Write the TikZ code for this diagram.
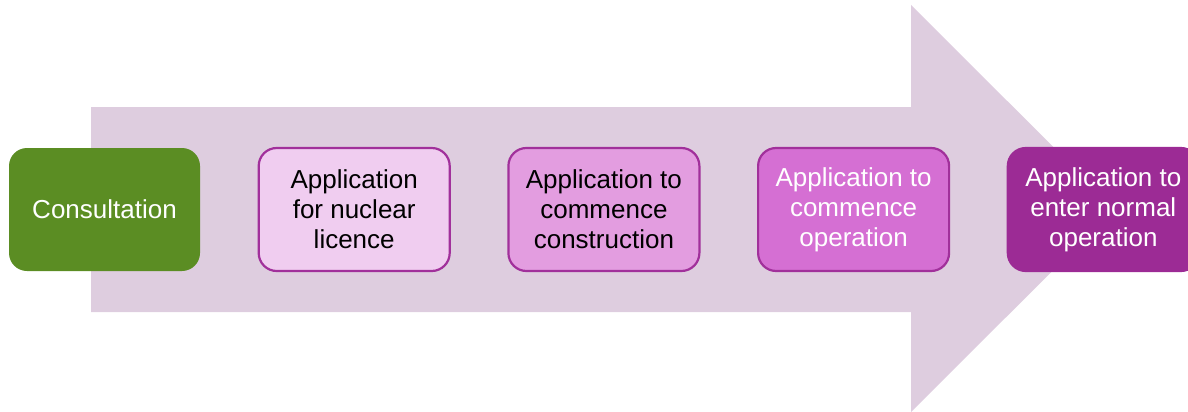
\documentclass[tikz,border=0pt]{standalone}
\usepackage{fontspec}
\setmainfont{Liberation Sans}
\usetikzlibrary{positioning}

\definecolor{arrowfill}{HTML}{DECDDF}
\definecolor{consultgreen}{HTML}{5B8D23}
\definecolor{stageedge}{HTML}{A1309B}
\definecolor{stagea}{HTML}{F0CDF0}
\definecolor{stageb}{HTML}{E39DE0}
\definecolor{stagec}{HTML}{D56FD3}
\definecolor{staged}{HTML}{9C2B95}

\begin{document}
\begin{tikzpicture}[
        x=1pt, y=-1pt,
        stage/.style={rectangle, rounded corners=18pt, minimum width=191pt, minimum height=123pt,
            inner sep=0pt, align=center, line width=2.2pt, font=\fontsize{26}{30}\selectfont},
    ]
        \useasboundingbox (0,0) rectangle (1188,412);

        % Draw the big background arrow
        \fill[arrowfill] (91,107) -- (911,107) -- (911,5) -- (1115,208.5)
            -- (911,412) -- (911,312) -- (91,312) -- cycle;

        % Draw the first step
        \node[stage, fill=consultgreen, text=white] (S-0) at (104.5,209.5) {Consultation};

        % Draw the application steps
        \foreach \name / \fillc / \drawc / \textc / \label in {
                1/stagea/stageedge/black/{Application\\for nuclear\\licence},
                2/stageb/stageedge/black/{Application to\\commence\\construction},
                3/stagec/stageedge/white/{Application to\\commence\\operation},
                4/staged/staged/white/{Application to\\enter normal\\operation}}
            \node[stage, fill=\fillc, draw=\drawc, text=\textc] (S-\name) at (104.5+249.7*\name,209.5) {\label};
    \end{tikzpicture}
\end{document}
